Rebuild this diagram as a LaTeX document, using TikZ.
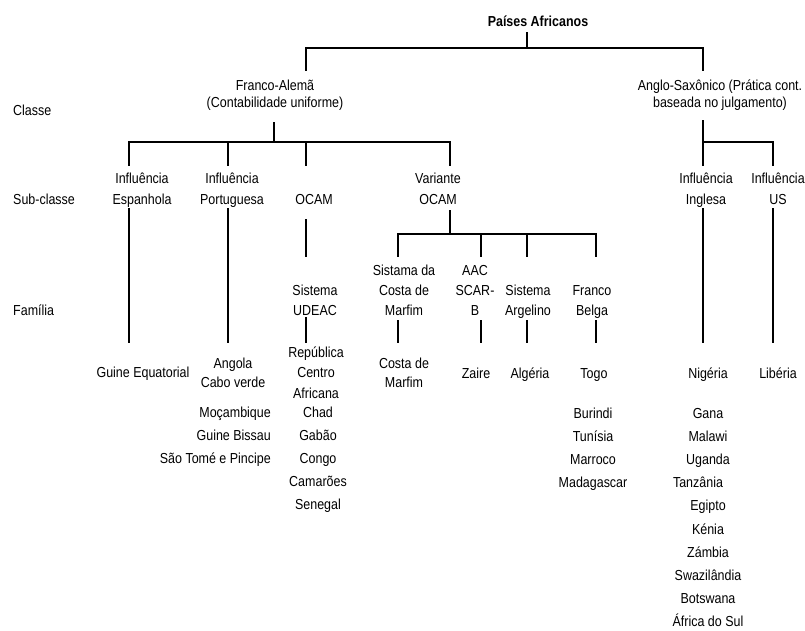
\documentclass[tikz,border=0pt]{standalone}
\usepackage{fontspec}
\setmainfont{Liberation Sans}[FakeStretch=0.86]

\begin{document}
\begin{tikzpicture}[x=1pt,y=-1pt,
  lbl/.style={font=\fontsize{14.5}{20}\selectfont,align=center,anchor=base,inner sep=0pt},
  lst/.style={lbl,font=\fontsize{14.5}{23.2}\selectfont},
  stem/.style={line width=2.2pt},
  bar/.style={line width=2.8pt,line cap=rect}]
\useasboundingbox (0,0) rectangle (805,630);

% row labels
\node[lbl,anchor=base west] (classe) at (13,115.5) {Classe};
\node[lbl,anchor=base west] (subclasse) at (13,204) {Sub-classe};
\node[lbl,anchor=base west] (familia) at (13,315) {Família};

% root and classes (base = last line)
\node[lbl,font=\fontsize{14.5}{20}\selectfont\bfseries] (paises) at (538,26.5) {Países Africanos};
\node[lbl,font=\fontsize{14.5}{17}\selectfont] (franco) at (275,107.5) {Franco-Alemã\\(Contabilidade uniforme)};
\node[lbl,font=\fontsize{14.5}{17}\selectfont] (anglo) at (720,107.5) {Anglo-Saxônico (Prática cont.\\baseada no julgamento)};

% sub-classes
\node[lbl,font=\fontsize{14.5}{21}\selectfont] (espanhola) at (142,204) {Influência\\Espanhola};
\node[lbl,font=\fontsize{14.5}{21}\selectfont] (portuguesa) at (232,204) {Influência\\Portuguesa};
\node[lbl] (ocam) at (314,204) {OCAM};
\node[lbl,font=\fontsize{14.5}{21}\selectfont] (variante) at (438,204) {Variante\\OCAM};
\node[lbl,font=\fontsize{14.5}{21}\selectfont] (inglesa) at (706,204) {Influência\\Inglesa};
\node[lbl,font=\fontsize{14.5}{21}\selectfont] (us) at (778,204) {Influência\\US};

% families
\node[lbl] (udeac) at (315,315) {Sistema\\UDEAC};
\node[lbl] (sistama) at (404,315) {Sistama da\\Costa de\\Marfim};
\node[lbl] (aac) at (475,315) {AAC\\SCAR-\\B};
\node[lbl] (argelino) at (528,315) {Sistema\\Argelino};
\node[lbl] (belga) at (592,315) {Franco\\Belga};

% countries
\node[lbl] (guine) at (143,377) {Guine Equatorial};
\node[lbl,font=\fontsize{14.5}{19}\selectfont] (angola) at (233,387) {Angola\\Cabo verde};
\node[lst,align=right,anchor=base east] (mocambique) at (271,463.4) {Moçambique\\Guine Bissau\\São Tomé e Pincipe};
\node[lbl,font=\fontsize{14.5}{20.5}\selectfont] (republica) at (316,398) {República\\Centro\\Africana};
\node[lst] (chad) at (318,509.8) {Chad\\Gabão\\Congo\\Camarões\\Senegal};
\node[lbl,font=\fontsize{14.5}{19}\selectfont] (costa) at (404,387) {Costa de\\Marfim};
\node[lbl] (zaire) at (476,378) {Zaire};
\node[lbl] (algeria) at (530,378) {Algéria};
\node[lbl] (togo) at (594,378) {Togo};
\node[lst] (burindi) at (593,487.6) {Burindi\\Tunísia\\Marroco\\Madagascar};
\node[lbl] (nigeria) at (708,378) {Nigéria};
\node[lst] (gana) at (708,626.8) {Gana\\Malawi\\Uganda\\Tanzânia\rule{20pt}{0pt}\\Egipto\\Kénia\\Zámbia\\Swazilândia\\Botswana\\África do Sul};
\node[lbl] (liberia) at (778,378) {Libéria};

% root to classes
\coordinate (t0) at (527,32);
\coordinate (k0) at (527,48);
\coordinate (d-fa) at (306,71);
\coordinate (d-as) at (703,71);
\draw[stem] (t0) -- (k0);
\draw[bar] (d-fa |- k0) -- (d-as |- k0);
\draw[stem] (d-fa |- k0) -- (d-fa);
\draw[stem] (d-as |- k0) -- (d-as);

% Franco-Alema to sub-classes
\coordinate (t-fa) at (274,122);
\coordinate (k-fa) at (274,142);
\coordinate (d-esp) at (129,166);
\coordinate (d-por) at (228,166);
\coordinate (d-ocam) at (306,166);
\coordinate (d-var) at (450,166);
\draw[stem] (t-fa) -- (k-fa);
\draw[bar] (d-esp |- k-fa) -- (d-var |- k-fa);
\foreach \n in {esp,por,ocam,var}
  \draw[stem] (d-\n |- k-fa) -- (d-\n);

% Anglo-Saxonico to sub-classes
\coordinate (t-as) at (703,120);
\coordinate (k-as) at (703,142);
\coordinate (d-ing) at (703,166);
\coordinate (d-us) at (773,166);
\draw[stem] (t-as) -- (d-ing);
\draw[bar] (k-as) -- (d-us |- k-as);
\draw[stem] (d-us |- k-as) -- (d-us);

% long stems sub-classe to countries
\foreach \n/\x in {esp/129,por/228,ing/703,us/773}{
  \coordinate (u-\n) at (\x,208);
  \coordinate (l-\n) at (\x,343);
  \draw[stem] (u-\n) -- (l-\n);
}

% OCAM
\coordinate (u-ocam) at (306,219);
\coordinate (l-ocam) at (306,257);
\draw[stem] (u-ocam) -- (l-ocam);

% Variante OCAM to families
\coordinate (t-var) at (450,210);
\coordinate (k-var) at (450,234);
\coordinate (d-cm) at (398,257);
\coordinate (d-aac) at (481,257);
\coordinate (d-arg) at (527,257);
\coordinate (d-fb) at (596,257);
\draw[stem] (t-var) -- (k-var);
\draw[bar] (d-cm |- k-var) -- (d-fb |- k-var);
\foreach \n in {cm,aac,arg,fb}
  \draw[stem] (d-\n |- k-var) -- (d-\n);

% families to countries
\foreach \n/\x/\y in {udeac/306/317,cm/398/320,aac/481/320,arg/527/320,fb/596/320}{
  \coordinate (f-\n) at (\x,\y);
  \coordinate (c-\n) at (\x,343);
  \draw[stem] (f-\n) -- (c-\n);
}
\end{tikzpicture}
\end{document}
